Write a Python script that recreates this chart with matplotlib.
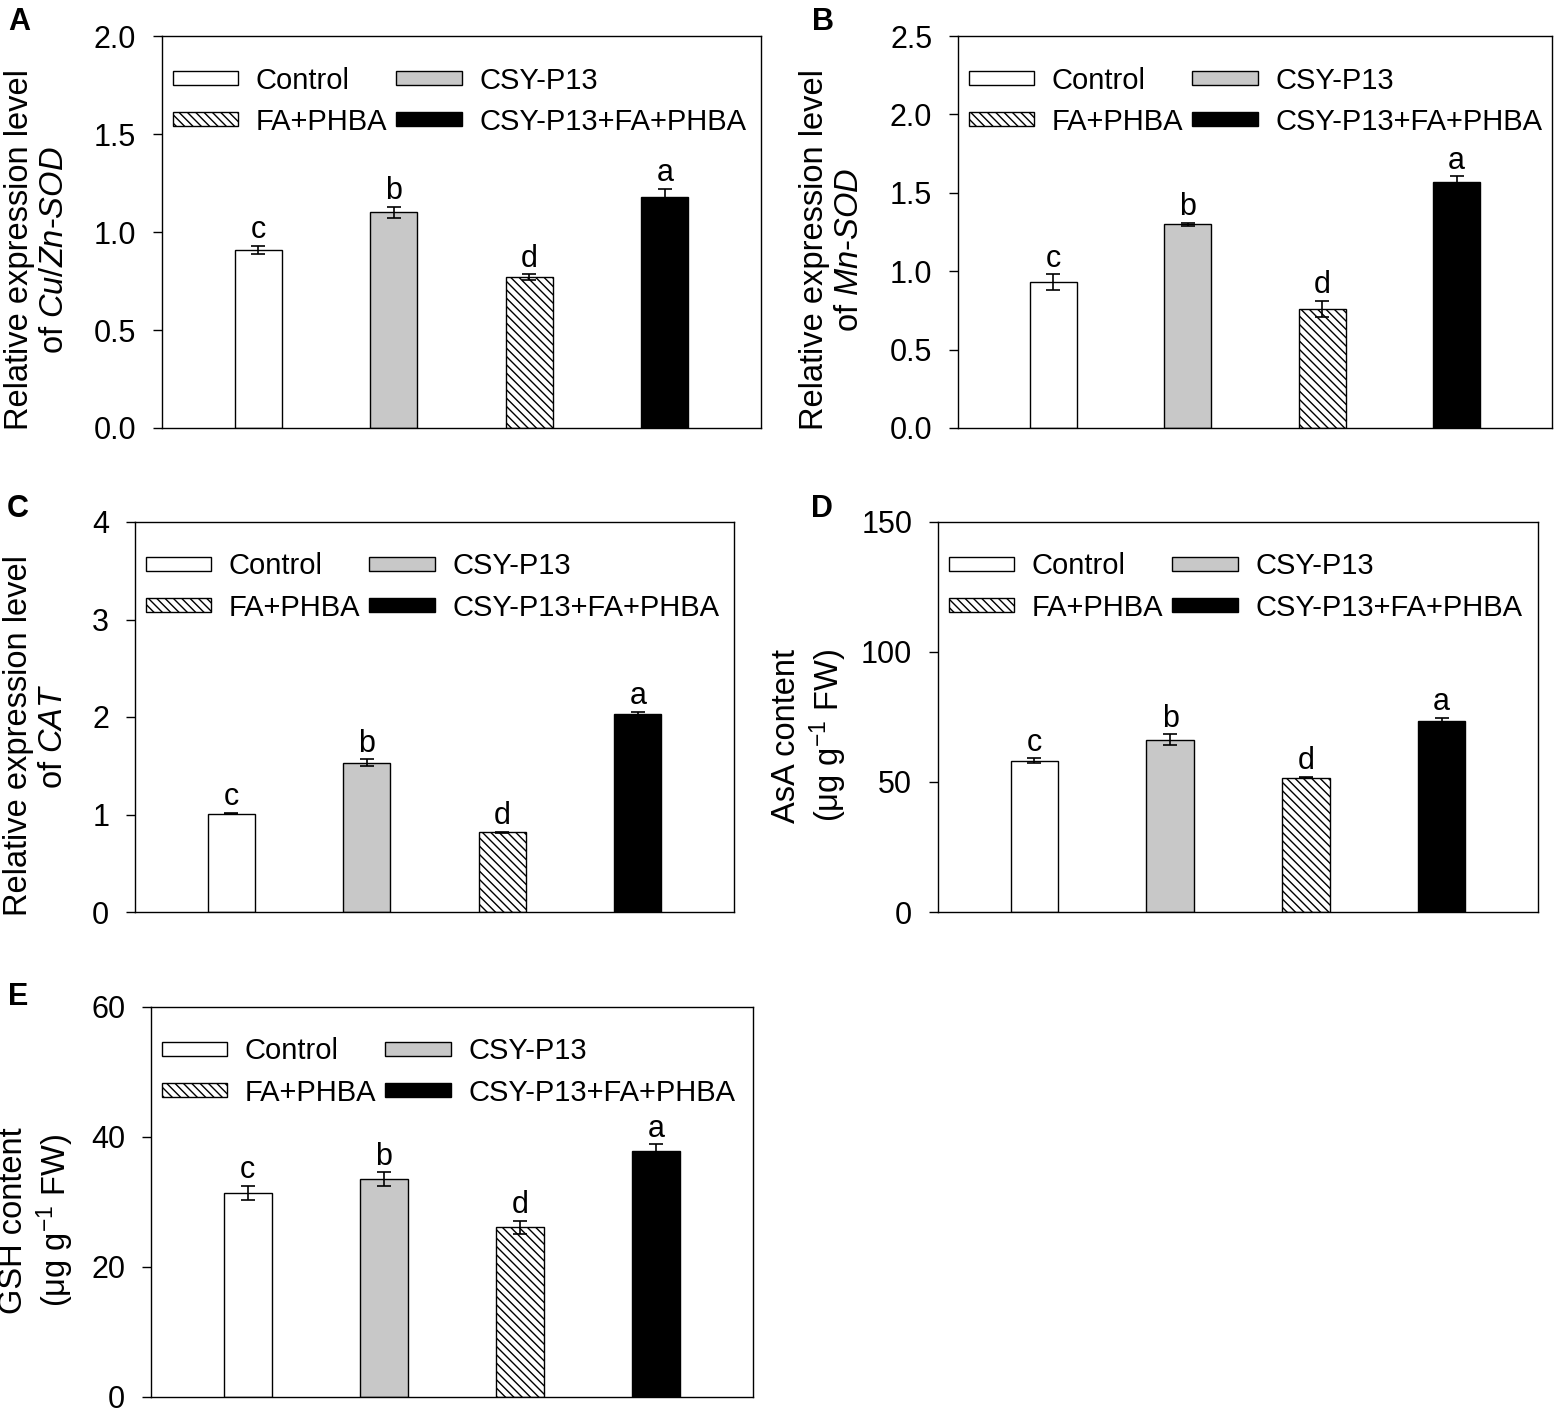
import matplotlib
matplotlib.use("Agg")
import matplotlib.pyplot as plt
import numpy as np

plt.rcParams['font.family'] = ['Liberation Sans', 'DejaVu Sans']
plt.rcParams['mathtext.fontset'] = 'custom'
plt.rcParams['mathtext.rm'] = 'Liberation Sans'
plt.rcParams['mathtext.it'] = 'Liberation Sans:italic'
plt.rcParams['mathtext.bf'] = 'Liberation Sans:bold'
plt.rcParams['hatch.linewidth'] = 1.0

# ---------------- data ----------------
categories = ['Control', 'CSY-P13', 'FA+PHBA', 'CSY-P13+FA+PHBA']
letters = ['c', 'b', 'd', 'a']

cuzn_sod = [0.91, 1.10, 0.77, 1.18]
cuzn_sod_err = [0.02, 0.03, 0.015, 0.04]

mn_sod = [0.93, 1.30, 0.76, 1.57]
mn_sod_err = [0.05, 0.01, 0.05, 0.035]

cat = [1.01, 1.53, 0.82, 2.03]
cat_err = [0.005, 0.035, 0.005, 0.02]

asa = [58.2, 66.3, 51.7, 73.3]
asa_err = [0.9, 2.1, 0.3, 1.4]

gsh = [31.4, 33.5, 26.1, 37.9]
gsh_err = [1.05, 1.05, 1.05, 1.0]

ticks_A = [0.0, 0.5, 1.0, 1.5, 2.0]
ticks_B = [0.0, 0.5, 1.0, 1.5, 2.0, 2.5]
ticks_C = [0, 1, 2, 3, 4]
ticks_D = [0, 50, 100, 150]
ticks_E = [0, 20, 40, 60]

# ---------------- styles ----------------
facecolors = ['white', '#c8c8c8', 'white', 'black']
hatches = [None, None, '\\\\\\\\', None]

W, H = 1560, 1416
fig = plt.figure(figsize=(W / 100, H / 100), dpi=100)


def px_axes(l, r, t, b):
    return fig.add_axes([l / W, 1 - b / H, (r - l) / W, (b - t) / H])


panels = [
    dict(box=(162, 761, 36, 428), vals=cuzn_sod, err=cuzn_sod_err, ticks=ticks_A, fmt='{:.1f}',
         label='Relative expression level\nof $\\mathit{Cu/Zn}$-$\\mathit{SOD}$', lab=(37, 250),
         tag='A', tagpos=(8, 7)),
    dict(box=(958, 1552, 36, 428), vals=mn_sod, err=mn_sod_err, ticks=ticks_B, fmt='{:.1f}',
         label='Relative expression level\nof $\\mathit{Mn}$-$\\mathit{SOD}$', lab=(832, 250),
         tag='B', tagpos=(812, 7)),
    dict(box=(135, 734, 522, 912), vals=cat, err=cat_err, ticks=ticks_C, fmt='{:d}',
         label='Relative expression level\nof $\\mathit{CAT}$', lab=(36, 736),
         tag='C', tagpos=(7, 494)),
    dict(box=(938, 1538, 522, 912), vals=asa, err=asa_err, ticks=ticks_D, fmt='{:d}',
         label='AsA content\n(μg g$^{-1}$ FW)', lab=(810, 736),
         tag='D', tagpos=(811, 494)),
    dict(box=(151, 753, 1007, 1397), vals=gsh, err=gsh_err, ticks=ticks_E, fmt='{:d}',
         label='GSH content\n(μg g$^{-1}$ FW)', lab=(37, 1221),
         tag='E', tagpos=(8, 982)),
]

x = np.arange(1, len(categories) + 1)

for p in panels:
    ax = px_axes(*p['box'])
    bars = []
    for i in range(len(categories)):
        b = ax.bar(x[i], p['vals'][i], width=0.35, color=facecolors[i], edgecolor='black',
                   linewidth=1.0, hatch=hatches[i], label=categories[i], zorder=2)
        bars.append(b)
    ax.errorbar(x, p['vals'], yerr=p['err'], fmt='none', ecolor='black', elinewidth=1.2,
                capsize=5, capthick=1.2, zorder=3)
    for i in range(len(categories)):
        ax.annotate(letters[i], (x[i], p['vals'][i] + p['err'][i]), xytext=(0, 5.5),
                    textcoords='offset points', ha='center', va='baseline', fontsize=22)
    ax.set_xlim(0.29, 4.71)
    ax.set_ylim(p['ticks'][0], p['ticks'][-1])
    ax.set_yticks(p['ticks'])
    ax.set_yticklabels([p['fmt'].format(t) for t in p['ticks']])
    ax.set_xticks([])
    ax.tick_params(axis='y', direction='out', length=6.5, width=1.0, pad=12, labelsize=22)
    for s in ax.spines.values():
        s.set_linewidth(1.0)
    order = [0, 2, 1, 3]
    ax.legend([bars[k] for k in order], [categories[k] for k in order], ncol=2,
              loc='upper left', bbox_to_anchor=(0.018, 0.922), frameon=False,
              fontsize=21, handlelength=2.25, handleheight=0.38, handletextpad=0.6,
              columnspacing=0.3, labelspacing=0.45, borderpad=0, borderaxespad=0)
    fig.text(p['lab'][0] / W, 1 - p['lab'][1] / H, p['label'], rotation=90,
             ha='center', va='center', multialignment='center', fontsize=23.5,
             linespacing=1.15)
    fig.text(p['tagpos'][0] / W, 1 - p['tagpos'][1] / H, p['tag'], ha='left', va='top',
             fontsize=22, fontweight='bold')

fig.savefig('out.png', dpi=100)
